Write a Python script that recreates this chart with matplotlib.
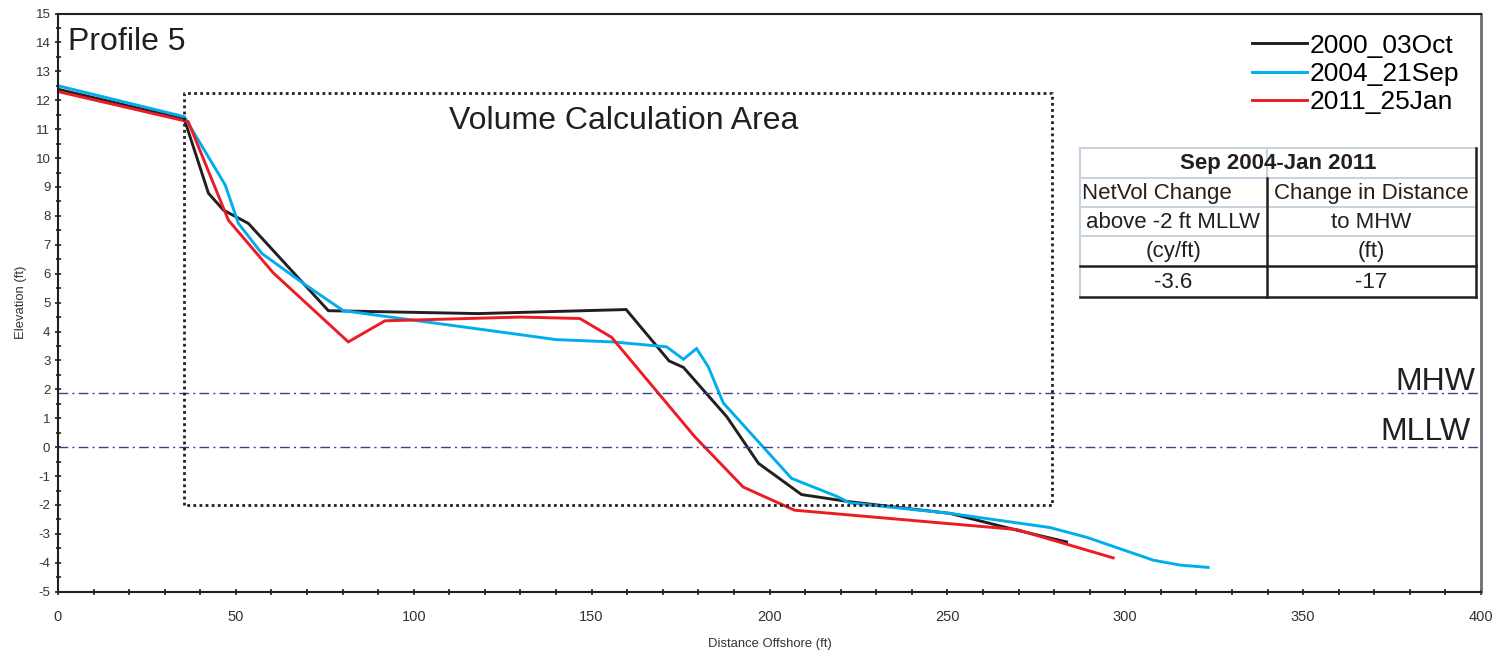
import matplotlib
matplotlib.use('Agg')
from matplotlib import pyplot as plt
from matplotlib.ticker import MultipleLocator
from matplotlib.transforms import blended_transform_factory

plt.rcParams['font.family'] = ['Liberation Sans', 'DejaVu Sans']
plt.rcParams['axes.unicode_minus'] = False

# profile data (distance offshore ft, elevation ft)
oct2000_x = [0, 35.5, 42.3, 46.5, 53.5, 76, 118, 159.7, 171.8, 175.8, 188, 196.9, 209, 222.6, 250.7, 269.5, 283.5]
oct2000_y = [12.38, 11.35, 8.78, 8.2, 7.74, 4.72, 4.62, 4.76, 2.98, 2.76, 1.05, -0.56, -1.64, -1.89, -2.29, -2.87, -3.28]

sep2004_x = [0, 35.5, 47, 50.7, 57.3, 69, 80.2, 124, 140, 156, 171.1, 175.8, 179.5, 182.8, 187,
             206.2, 218.9, 222.6, 250.7, 278.8, 289.2, 307.9, 315.4, 323.3]
sep2004_y = [12.5, 11.43, 9.07, 7.74, 6.7, 5.66, 4.72, 3.99, 3.72, 3.64, 3.47, 3.04, 3.41, 2.78, 1.53,
             -1.08, -1.70, -1.93, -2.29, -2.78, -3.12, -3.91, -4.08, -4.16]

jan2011_x = [0, 36.6, 47.9, 60.5, 81.6, 91.9, 130, 146.7, 155.6, 179, 192.6, 207, 269.5, 296.6]
jan2011_y = [12.3, 11.26, 7.85, 6.03, 3.64, 4.37, 4.5, 4.45, 3.8, 0.36, -1.38, -2.18, -2.85, -3.83]

labels = ['2000_03Oct', '2004_21Sep', '2011_25Jan']
colors = ['#231f20', '#00aeef', '#ed1c24']

mhw = 1.88
mllw = 0.0
box_x = [35.5, 279.5]
box_y = [-2, 12.25]

table_title = 'Sep 2004-Jan 2011'
table_rows = [['NetVol Change', 'Change in Distance'],
              ['above -2 ft MLLW', 'to MHW'],
              ['(cy/ft)', '(ft)'],
              ['-3.6', '-17']]

fig = plt.figure(figsize=(15.02, 6.51), dpi=100)
ax = fig.add_axes([58/1502, 1-591.7/651, (1481-58)/1502, (591.7-13.5)/651])

for xs, ys, c, lab in zip([oct2000_x, sep2004_x, jan2011_x], [oct2000_y, sep2004_y, jan2011_y], colors, labels):
    ax.plot(xs, ys, color=c, lw=2.1, label=lab, solid_joinstyle='miter')

# MHW / MLLW reference lines
for lvl in [mhw, mllw]:
    ax.axhline(lvl, color='#3e3f8f', lw=1.0, ls=(0, (7, 3, 1.5, 3)))
tr = blended_transform_factory(ax.transAxes, ax.transData)
ax.text(0.9958, mhw + 0.09, 'MHW', transform=tr, ha='right', va='baseline', fontsize=23, color='#231f20')
ax.text(0.9930, mllw + 0.24, 'MLLW', transform=tr, ha='right', va='baseline', fontsize=23, color='#231f20')

# volume calculation box
ax.plot([box_x[0], box_x[0], box_x[1], box_x[1], box_x[0]],
        [box_y[0], box_y[1], box_y[1], box_y[0], box_y[0]],
        color='#231f20', lw=2, ls=(0, (1, 1.2)))
ax.text(159.1, 11.0, 'Volume Calculation Area', ha='center', va='baseline', fontsize=23, color='#231f20')

ax.text(0.007, 0.937, 'Profile 5', transform=ax.transAxes, ha='left', va='baseline', fontsize=23, color='#231f20')

ax.set_xlim(0, 400)
ax.set_ylim(-5, 15)
ax.xaxis.set_major_locator(MultipleLocator(50))
ax.xaxis.set_minor_locator(MultipleLocator(10))
ax.yaxis.set_major_locator(MultipleLocator(1))
ax.yaxis.set_minor_locator(MultipleLocator(0.5))
ax.tick_params(which='both', direction='inout', color='#231f20', width=1.2)
ax.tick_params(axis='y', which='major', length=5)
ax.tick_params(axis='y', which='minor', length=3.6)
ax.tick_params(axis='x', which='both', length=4, labelsize=10.5, labelcolor='#333333', pad=11)
ax.tick_params(axis='y', labelsize=9.5, labelcolor='#333333', pad=3)
ax.set_xlabel('Distance Offshore (ft)', fontsize=9.4, color='#333333', labelpad=10)
ax.set_ylabel('Elevation (ft)', fontsize=9.4, color='#333333', labelpad=6)
for s in ['left', 'bottom', 'top']:
    ax.spines[s].set_color('#231f20')
    ax.spines[s].set_linewidth(1.5)
ax.spines['right'].set_color('#6d6e71')
ax.spines['right'].set_linewidth(2)

ax.legend(loc='upper left', bbox_to_anchor=(0.839, 0.9654), frameon=False, fontsize=19,
          handlelength=2.1, handletextpad=0.1, labelspacing=0.17, borderpad=0, borderaxespad=0)

# summary table drawn in pixel space
tab = fig.add_axes([0, 0, 1, 1], facecolor='none')
tab.set_xlim(0, 1502)
tab.set_ylim(651, 0)
tab.axis('off')
tl, tm, trt = 1080, 1267, 1476
rows_y = [148, 178, 207, 236, 266, 297]
light = '#c9d3df'
for yy in rows_y[:4]:
    tab.plot([tl, trt], [yy, yy], color=light, lw=1.5)
tab.plot([tl, tl], [rows_y[0], rows_y[-1]], color=light, lw=1.5)
tab.plot([tm, tm], [rows_y[0], rows_y[1]], color=light, lw=1.5)
tab.plot([tm, tm], [rows_y[1], rows_y[-1]], color='#231f20', lw=1.8)
tab.plot([trt, trt], [rows_y[0], rows_y[-1]], color='#231f20', lw=1.8)
tab.plot([tl, trt], [rows_y[4], rows_y[4]], color='#231f20', lw=1.8)
tab.plot([tl, trt], [rows_y[5], rows_y[5]], color='#231f20', lw=1.8)
tab.text((tl + trt) / 2, (rows_y[0] + rows_y[1]) / 2 + 1, table_title, ha='center', va='center',
         fontsize=16, fontweight='bold', color='#231f20')
for i, row in enumerate(table_rows):
    yc = (rows_y[i + 1] + rows_y[i + 2]) / 2 + 1
    if i == 0:
        tab.text(tl + 2, yc, row[0], ha='left', va='center', fontsize=16, color='#231f20')
    else:
        tab.text((tl + tm) / 2, yc, row[0], ha='center', va='center', fontsize=16, color='#231f20')
    tab.text((tm + trt) / 2, yc, row[1], ha='center', va='center', fontsize=16, color='#231f20')

plt.savefig('out.png', dpi=100)
